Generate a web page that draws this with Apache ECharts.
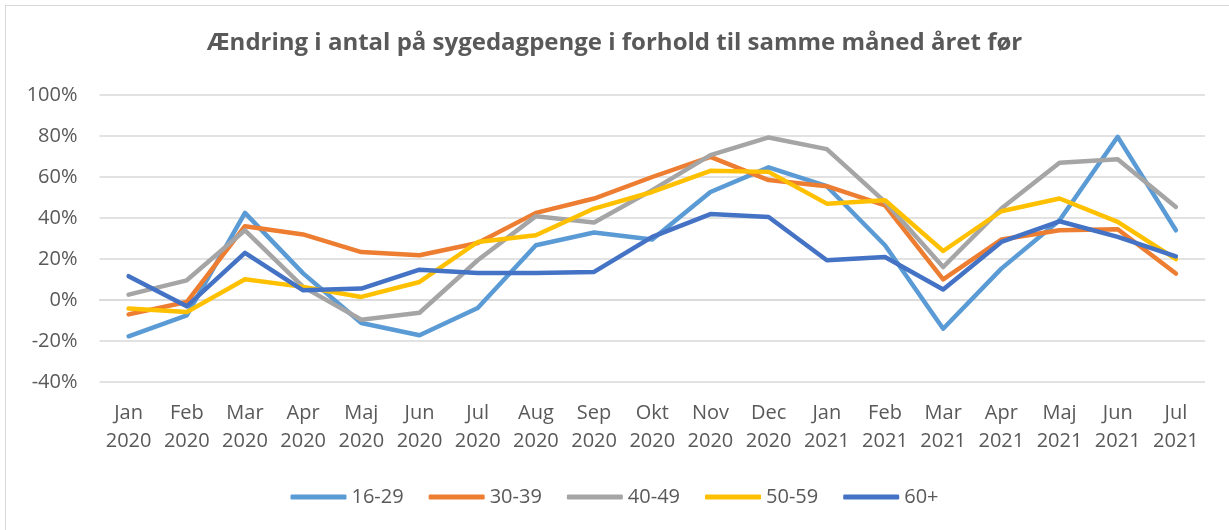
<!DOCTYPE html>
<html>
<head>
<meta charset="utf-8">
<script src="https://cdn.jsdelivr.net/npm/echarts@6/dist/echarts.min.js"></script>
<style>
    html, body { margin: 0; padding: 0; background: #fff; }
    #chart { position: absolute; left: 0; top: 0; width: 1229px; height: 530px; }
    #frame { position: absolute; left: 5px; top: 5px; width: 1300px; height: 600px; border-left: 1px solid #d9d9d9; border-top: 1px solid #d9d9d9; pointer-events: none; }
</style>
</head>
<body>
<div id="chart"></div>
<div id="frame"></div>
<script>
// kategorier (måneder)
const months = ['Jan\n2020', 'Feb\n2020', 'Mar\n2020', 'Apr\n2020', 'Maj\n2020', 'Jun\n2020', 'Jul\n2020', 'Aug\n2020', 'Sep\n2020', 'Okt\n2020', 'Nov\n2020', 'Dec\n2020',
    'Jan\n2021', 'Feb\n2021', 'Mar\n2021', 'Apr\n2021', 'Maj\n2021', 'Jun\n2021', 'Jul\n2021']

// ændring i procent
const age16_29 = [-17.7, -7.5, 42.5, 13, -11.2, -17.2, -3.9, 26.7, 32.9, 29.5, 52.7, 64.7, 55.5, 26.7, -14, 15.3, 38.9, 79.6, 34]
const age30_39 = [-7, -1, 36, 32, 23.4, 21.8, 27.8, 42.5, 49.5, 60, 69.8, 58.5, 55.5, 46.2, 10.1, 29.5, 34, 34.5, 12.9]
const age40_49 = [2.6, 9.6, 34, 6.4, -9.6, -6.2, 19.4, 40.9, 37.8, 53.6, 70.7, 79.3, 73.6, 47.9, 16.1, 44.6, 66.9, 68.7, 45.4]
const age50_59 = [-4.2, -5.9, 10.1, 6.4, 1.5, 8.8, 28.3, 31.6, 44.6, 52.7, 63, 62.5, 47, 48.7, 23.9, 43.3, 49.5, 38.1, 19.9]
const age60 = [11.6, -3.1, 23, 4.7, 5.6, 14.8, 13.2, 13.2, 13.7, 30.8, 41.9, 40.5, 19.4, 21, 5.1, 28.3, 38.4, 30.8, 21.3]

const seriesNames = ['16-29', '30-39', '40-49', '50-59', '60+']
const seriesData = [age16_29, age30_39, age40_49, age50_59, age60]
const colors = ['#5B9BD5', '#ED7D31', '#A5A5A5', '#FFC000', '#4472C4']

const FONT = '"Open Sans", sans-serif'

const chart = echarts.init(document.getElementById('chart'))
chart.setOption({
    animation: false,
    color: colors,
    title: {
        text: 'Ændring i antal på sygedagpenge i forhold til samme måned året før',
        left: 'center',
        top: 26,
        textStyle: { fontFamily: FONT, fontSize: 24, fontWeight: 'bold', color: '#595959' }
    },
    legend: {
        top: 482,
        left: 'center',
        icon: 'roundRect',
        itemWidth: 56,
        itemHeight: 5,
        itemGap: 25,
        textStyle: { fontFamily: FONT, fontSize: 20, color: '#595959' },
        data: seriesNames
    },
    grid: {
        left: 99.5,
        right: 24,
        top: 95,
        bottom: 148,
        containLabel: false
    },
    xAxis: {
        type: 'category',
        boundaryGap: true,
        data: months,
        axisLine: { lineStyle: { color: '#d9d9d9', width: 1.5 } },
        axisTick: { show: false },
        axisLabel: { fontFamily: FONT, fontSize: 20, color: '#595959', lineHeight: 28, margin: 17, interval: 0 }
    },
    yAxis: {
        type: 'value',
        min: -40,
        max: 100,
        interval: 20,
        axisLine: { show: false },
        axisTick: { show: false },
        splitLine: { lineStyle: { color: '#d9d9d9', width: 1.5 } },
        axisLabel: { fontFamily: FONT, fontSize: 20, color: '#595959', margin: 22, formatter: '{value}%' }
    },
    series: seriesNames.map((name, i) => ({
        name: name,
        type: 'line',
        data: seriesData[i],
        symbol: 'none',
        lineStyle: { width: 4.5, cap: 'round', join: 'round' }
    }))
})
</script>
</body>
</html>
